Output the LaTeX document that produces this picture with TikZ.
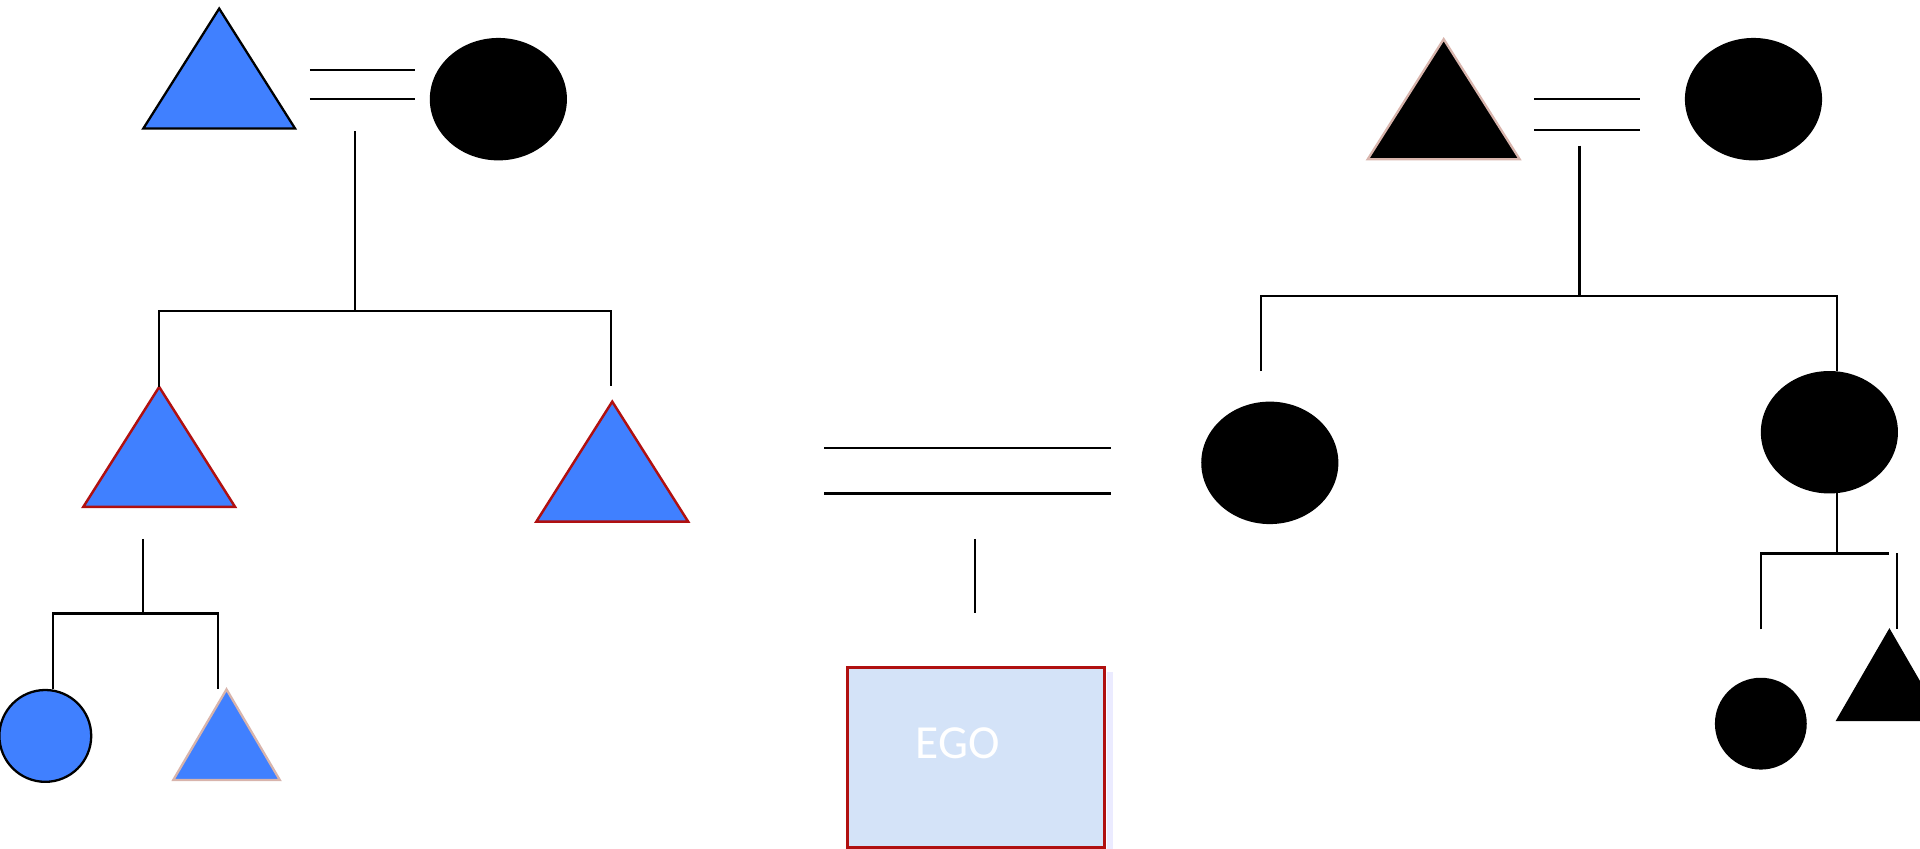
\documentclass[tikz,border=0pt]{standalone}
\usepackage{fontspec}
\newfontfamily\egofont{Carlito}
\usepackage{tikz}
\usetikzlibrary{shapes}
\usetikzlibrary{shapes.geometric}

\definecolor{kinblue}{HTML}{4080FF}
\definecolor{kinred}{HTML}{B01010}
\definecolor{kinpink}{HTML}{D8B4AC}
\definecolor{egofill}{HTML}{D4E3F8}

% one unit = one pixel of the 1568 wide picture
\def\pxu{0.012245cm}

\tikzset{
  male/.style={isosceles triangle, isosceles triangle stretches, shape border rotate=90,
    minimum width=124*\pxu, minimum height=98*\pxu, inner sep=0pt, outer sep=0pt, anchor=apex},
  female/.style={ellipse, minimum width=112*\pxu, minimum height=100*\pxu, inner sep=0pt, fill=black},
  kid/.style={circle, minimum size=75*\pxu, inner sep=0pt},
  egobox/.style={rectangle, minimum width=210*\pxu, minimum height=147*\pxu, inner sep=0pt,
    fill=egofill, draw=kinred, line width=0.9pt},
}

\begin{document}
\begin{tikzpicture}[x={(\pxu,0)}, y={(0,-\pxu)}, line width=0.65pt]
		\clip (0,0) rectangle (1568,693);

		% left grandparents
		\node[male, fill=kinblue, draw=black] (pgf) at (179,7) {};
		\node[female] (pgm) at (407,81) {};
		\coordinate (pe1) at (253,57);
		\coordinate (pe2) at (339,57);
		\coordinate (pe3) at (253,81);
		\coordinate (pe4) at (339,81);
		\draw (pe1) -- (pe2);
		\draw (pe3) -- (pe4);
		\coordinate (pj) at (290,107);
		\coordinate (pk) at (290,254);
		\coordinate (pb) at (499,315);
		\draw (pj) -- (pk);

		% father and uncle
		\node[male, fill=kinblue, draw=kinred, line width=0.7pt] (fa) at (130,316) {};
		\node[male, fill=kinblue, draw=kinred, line width=0.7pt] (fb) at (500,328) {};
		\draw (fa.apex) |- (pk) -| (pb);

		% cousins
		\coordinate (sj) at (117,440);
		\coordinate (sk) at (117,501);
		\coordinate (s1) at (43,563);
		\coordinate (s2) at (178,563);
		\draw (sj) -- (sk);
		\draw (s1) |- (sk) -| (s2);
		\node[kid, fill=kinblue, draw=black] (sis) at (37,601) {};
		\node[male, fill=kinblue, draw=kinpink, minimum width=87*\pxu, minimum height=74*\pxu] (bro) at (185,563) {};

		% marriage of the parents
		\coordinate (me1) at (673,366);
		\coordinate (me2) at (907,366);
		\coordinate (me3) at (673,403);
		\coordinate (me4) at (907,403);
		\draw (me1) -- (me2);
		\draw (me3) -- (me4);
		\coordinate (ej) at (796,440);
		\coordinate (ek) at (796,501);
		\draw (ej) -- (ek);

		% ego
		\fill[blue!8] (904,549) rectangle (909,693);
		\node[egobox] (ego) at (797,618.5) {};
		\node[text=white, font=\egofont\fontsize{13.5}{16}\selectfont] (egotxt) at (782,607) {EGO};

		% right grandparents
		\node[male, fill=black, draw=kinpink] (mgf) at (1179,32) {};
		\node[female] (mgm) at (1432,81) {};
		\coordinate (qe1) at (1253,81);
		\coordinate (qe2) at (1339,81);
		\coordinate (qe3) at (1253,106);
		\coordinate (qe4) at (1339,106);
		\draw (qe1) -- (qe2);
		\draw (qe3) -- (qe4);
		\coordinate (qj) at (1290,119);
		\coordinate (qk) at (1290,242);
		\coordinate (qa) at (1030,303);
		\coordinate (qb) at (1500,303);
		\draw (qj) -- (qk);
		\draw (qa) |- (qk) -| (qb);

		% mother and aunt
		\node[female] (ma) at (1037,378) {};
		\node[female] (mb) at (1494,353) {};

		% aunt's children
		\coordinate (nj) at (1500,403);
		\coordinate (nk) at (1500,452);
		\coordinate (ne) at (1543,452);
		\coordinate (n1) at (1438,514);
		\coordinate (n2) at (1549,452);
		\coordinate (n3) at (1549,514);
		\draw (nj) -- (nk);
		\draw (n1) |- (ne);
		\draw (n2) -- (n3);
		\node[kid, fill=black] (cza) at (1438,591) {};
		\node[male, fill=black, minimum width=88*\pxu, minimum height=76*\pxu] (czb) at (1543,513) {};
	\end{tikzpicture}
\end{document}
